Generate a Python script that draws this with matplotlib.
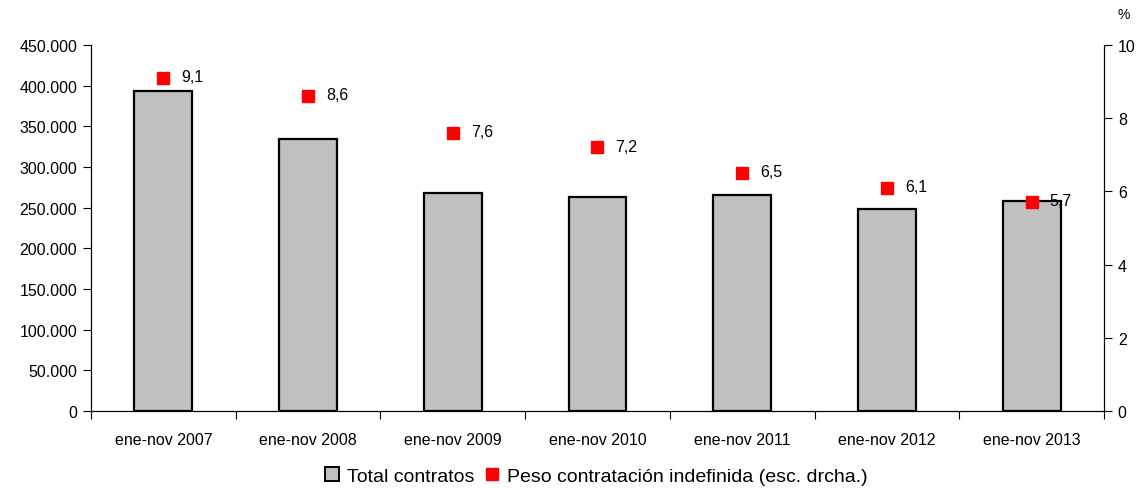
import numpy as np
import matplotlib.pyplot as plt
from matplotlib.ticker import FuncFormatter
from matplotlib.patches import Patch
from matplotlib.lines import Line2D

plt.rcParams['font.family'] = ['Liberation Sans', 'DejaVu Sans']

# contratos totales (barras) y peso de la contratación indefinida (%)
periodos = ['ene-nov 2007', 'ene-nov 2008', 'ene-nov 2009', 'ene-nov 2010',
            'ene-nov 2011', 'ene-nov 2012', 'ene-nov 2013']
total_contratos = [393000, 334000, 267500, 262700, 265200, 248500, 258000]
peso_indefinida = [9.1, 8.6, 7.6, 7.2, 6.5, 6.1, 5.7]

x = np.arange(len(periodos))
fs = 11.5

fig = plt.figure(figsize=(11.36, 4.89), dpi=100)
ax = fig.add_axes([0.0801, 0.1575, 0.8917, 0.7485])

ax.bar(x, total_contratos, width=0.4, color='#c0c0c0', edgecolor='black', linewidth=1.6, zorder=2)
ax.set_xlim(-0.5, len(periodos) - 0.5)
ax.set_ylim(0, 450000)
ax.set_yticks(np.arange(0, 450001, 50000))
ax.yaxis.set_major_formatter(FuncFormatter(lambda v, p: f'{int(v):,}'.replace(',', '.')))

# ticks del eje x entre categorías, etiquetas centradas en cada barra
ax.set_xticks(np.arange(-0.5, len(periodos), 1.0))
ax.set_xticklabels([])
ax.set_xticks(x, minor=True)
ax.set_xticklabels(periodos, minor=True)
ax.tick_params(axis='x', which='minor', length=0, pad=15, labelsize=fs)
ax.tick_params(axis='x', which='major', length=6, width=0.8)
ax.tick_params(axis='y', length=6, width=0.8, labelsize=fs, pad=4)
ax.spines['top'].set_visible(False)

ax2 = ax.twinx()
ax2.plot(x, peso_indefinida, 's', color='#ff0000', markersize=8, zorder=3)
for xi, v in zip(x, peso_indefinida):
    ax2.annotate(f'{v:.1f}'.replace('.', ','), (xi, v), xytext=(13, 1),
                 textcoords='offset points', ha='left', va='center', fontsize=fs)
ax2.set_ylim(0, 10)
ax2.set_yticks([0, 2, 4, 6, 8, 10])
ax2.tick_params(axis='y', length=6, width=0.8, labelsize=fs, pad=4)
ax2.spines['top'].set_visible(False)
fig.text(0.989, 0.97, '%', ha='center', va='center', fontsize=10)

handles = [Patch(facecolor='#c0c0c0', edgecolor='black', linewidth=1.4, label='Total contratos'),
           Line2D([], [], marker='s', linestyle='none', color='#ff0000', markersize=9,
                  label='Peso contratación indefinida (esc. drcha.)')]
fig.legend(handles=handles, loc='center', bbox_to_anchor=(0.525, 0.024), ncol=2, frameon=False,
           fontsize=14, handlelength=0.7, handleheight=0.7, handletextpad=0.4, columnspacing=0.6,
           borderpad=0)

fig.savefig('out.png', dpi=100)
